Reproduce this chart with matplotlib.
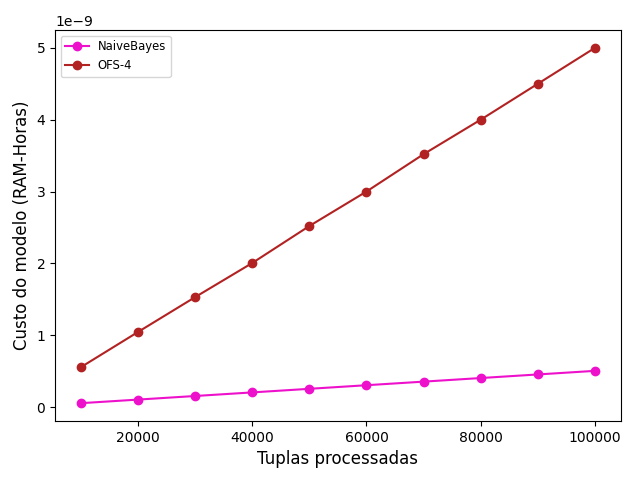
import numpy as np
import matplotlib
matplotlib.use("Agg")
import matplotlib.pyplot as plt

tuplas = [10000, 20000, 30000, 40000, 50000, 60000, 70000, 80000, 90000, 100000]
naive_bayes = [0.055e-9, 0.105e-9, 0.155e-9, 0.205e-9, 0.255e-9,
               0.305e-9, 0.355e-9, 0.405e-9, 0.455e-9, 0.505e-9]
ofs4 = [0.555e-9, 1.045e-9, 1.53e-9, 2.005e-9, 2.52e-9,
        3.0e-9, 3.52e-9, 4.0e-9, 4.5e-9, 5.0e-9]


def main():
    fig, ax = plt.subplots(figsize=(6.4, 4.8), dpi=100)
    ax.plot(tuplas, naive_bayes, marker="o", color="#ee11cc", label="NaiveBayes")
    ax.plot(tuplas, ofs4, marker="o", color="#b22222", label="OFS-4")
    ax.set_xlabel("Tuplas processadas", fontsize=12)
    ax.set_ylabel("Custo do modelo (RAM-Horas)", fontsize=12)
    ax.legend(fontsize="small", loc="upper left")
    fig.subplots_adjust(left=0.086, right=0.970, bottom=0.123, top=0.9375)
    fig.savefig("out.png")


if __name__ == "__main__":
    main()
